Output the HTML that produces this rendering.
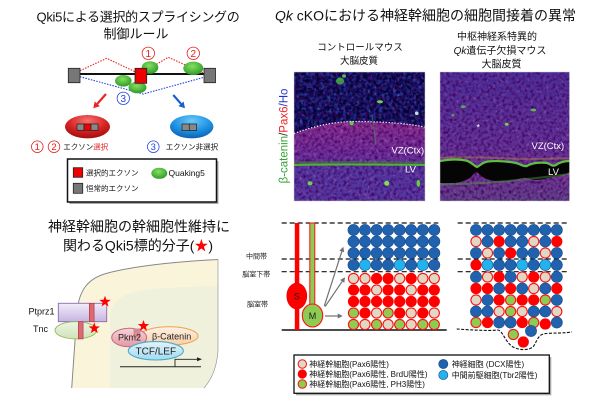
<!DOCTYPE html>
<html><head><meta charset="utf-8"><style>
html,body{margin:0;padding:0;background:#fff;width:600px;height:401px;overflow:hidden}
svg{display:block}
text{font-family:"Liberation Sans","Noto Sans CJK JP",sans-serif}
</style></head><body>
<svg xmlns="http://www.w3.org/2000/svg" xmlns:xlink="http://www.w3.org/1999/xlink" width="600" height="401" viewBox="0 0 600 401">
<defs>
<radialGradient id="gG" cx="0.45" cy="0.35" r="0.65"><stop offset="0" stop-color="#86e060"/><stop offset="1" stop-color="#2f9a2a"/></radialGradient>
<radialGradient id="gRe" cx="0.5" cy="0.25" r="0.8"><stop offset="0" stop-color="#f87070"/><stop offset="0.55" stop-color="#d42222"/><stop offset="1" stop-color="#9a0a0a"/></radialGradient>
<radialGradient id="gBl" cx="0.5" cy="0.25" r="0.8"><stop offset="0" stop-color="#6ccaf8"/><stop offset="0.55" stop-color="#1e90e2"/><stop offset="1" stop-color="#0a5aa8"/></radialGradient>
<linearGradient id="gPu" x1="0" y1="0" x2="0" y2="1"><stop offset="0" stop-color="#f2ecfa"/><stop offset="1" stop-color="#c6b4e0"/></linearGradient>
<linearGradient id="gTnc" x1="0" y1="0" x2="0" y2="1"><stop offset="0" stop-color="#eef5e4"/><stop offset="1" stop-color="#cfe2b8"/></linearGradient>
<linearGradient id="gPk" x1="0" y1="0" x2="0" y2="1"><stop offset="0" stop-color="#f6d4d8"/><stop offset="1" stop-color="#e498a4"/></linearGradient>
<linearGradient id="gBc" x1="0" y1="0" x2="0" y2="1"><stop offset="0" stop-color="#fdf2e4"/><stop offset="1" stop-color="#f8cfa8"/></linearGradient>
<linearGradient id="gTcf" x1="0" y1="0" x2="0" y2="1"><stop offset="0" stop-color="#e2f4fb"/><stop offset="1" stop-color="#a2daf0"/></linearGradient>
<linearGradient id="gMag" x1="0" y1="0" x2="0" y2="1"><stop offset="0" stop-color="#862c8c"/><stop offset="0.6" stop-color="#702c98"/><stop offset="1" stop-color="#5e329c"/></linearGradient>
<linearGradient id="gRt" x1="0" y1="0" x2="0" y2="1"><stop offset="0" stop-color="#4a2e98"/><stop offset="0.55" stop-color="#5e3096"/><stop offset="0.8" stop-color="#6c3290"/><stop offset="1" stop-color="#5c4088"/></linearGradient>
<filter id="nDark" x="0" y="0" width="1" height="1"><feTurbulence type="fractalNoise" baseFrequency="0.3" numOctaves="2" seed="4"/><feColorMatrix type="matrix" values="0 0 0 0 0  0 0 0 0 0  0 0 0 0 0.03  -3.2 0 0 0 2.25"/></filter>
<filter id="nLight" x="0" y="0" width="1" height="1"><feTurbulence type="fractalNoise" baseFrequency="0.32" numOctaves="2" seed="9"/><feColorMatrix type="matrix" values="0 0 0 0 0.05  0 0 0 0 0  0 0 0 0 0.1  -2.4 0 0 0 1.35"/></filter>
<filter id="nPink" x="0" y="0" width="1" height="1"><feTurbulence type="fractalNoise" baseFrequency="0.3" numOctaves="2" seed="21"/><feColorMatrix type="matrix" values="0 0 0 0 0.9  0 0 0 0 0.2  0 0 0 0 0.5  2.6 0 0 0 -1.4"/></filter>
<filter id="nBlue" x="0" y="0" width="1" height="1"><feTurbulence type="fractalNoise" baseFrequency="0.28" numOctaves="2" seed="13"/><feColorMatrix type="matrix" values="0 0 0 0 0.2  0 0 0 0 0.3  0 0 0 0 0.95  2.6 0 0 0 -1.35"/></filter>
<clipPath id="c1"><rect x="294" y="72" width="131" height="129"/></clipPath>
<clipPath id="c2"><rect x="440" y="72" width="129.5" height="129"/></clipPath>
<clipPath id="cTop"><path d="M294,72 H425 V127 C405,123 385,122 360,121.5 C340,121 320,124 294,133.5 Z"/></clipPath>
<circle id="B" r="5.6" fill="#2162ae" stroke="#184c8c" stroke-width="0.6"/>
<circle id="L" r="5.6" fill="#22b2ee" stroke="#184c8c" stroke-width="0.6"/>
<circle id="R" r="5.6" fill="#ff0000"/>
<circle id="E" r="5.1" fill="#ded8c4" stroke="#ff1010" stroke-width="1.1"/>
<circle id="G" r="5.1" fill="#8ecb52" stroke="#ff1010" stroke-width="1.1"/>
<path id="st" d="M0,-6 L1.41,-1.94 L5.71,-1.85 L2.28,0.74 L3.53,4.85 L0,2.4 L-3.53,4.85 L-2.28,0.74 L-5.71,-1.85 L-1.41,-1.94Z" fill="#ff0000"/>
</defs>

<!-- ============ TOP LEFT ============ -->
<text x="138" y="21.7" font-size="13" text-anchor="middle" fill="#111" letter-spacing="-0.3">Qki5による選択的スプライシングの</text>
<text x="136" y="38.3" font-size="13" text-anchor="middle" fill="#111">制御ルール</text>

<polyline points="80,70.7 106.7,58.3 135,71.7" fill="none" stroke="#ee2222" stroke-width="1.1" stroke-dasharray="1.5 1.3"/>
<polyline points="146.7,70 168.3,57.3 204,73.3" fill="none" stroke="#ee2222" stroke-width="1.1" stroke-dasharray="1.5 1.3"/>
<polyline points="80,76.7 143.3,94 204,77.3" fill="none" stroke="#2244dd" stroke-width="1.1" stroke-dasharray="1.5 1.3"/>
<line x1="80" y1="74" x2="204" y2="74" stroke="#111" stroke-width="2"/>
<ellipse cx="150" cy="67.5" rx="8.3" ry="6.3" fill="url(#gG)"/>
<ellipse cx="123.3" cy="80.8" rx="8.3" ry="5.8" fill="url(#gG)"/>
<ellipse cx="137.5" cy="87.5" rx="9" ry="5.8" fill="url(#gG)"/>
<ellipse cx="193.3" cy="68.3" rx="10" ry="6.7" fill="url(#gG)"/>
<rect x="68.3" y="68.3" width="11.7" height="14.4" fill="#777" stroke="#222" stroke-width="0.8"/>
<rect x="204" y="68.3" width="11.5" height="14.4" fill="#777" stroke="#222" stroke-width="0.8"/>
<rect x="135" y="68.3" width="11.7" height="15" fill="#ee0000" stroke="#222" stroke-width="0.8"/>

<circle cx="148.3" cy="53.3" r="6.2" fill="#fff" stroke="#e02020" stroke-width="0.8"/>
<text x="148.3" y="56.9" font-size="10" text-anchor="middle" fill="#e02020">1</text>
<circle cx="193.3" cy="53.3" r="6.2" fill="#fff" stroke="#e02020" stroke-width="0.8"/>
<text x="193.3" y="56.9" font-size="10" text-anchor="middle" fill="#e02020">2</text>
<circle cx="123.3" cy="98.3" r="6.2" fill="#fff" stroke="#2244dd" stroke-width="0.8"/>
<text x="123.3" y="101.9" font-size="10" text-anchor="middle" fill="#2244dd">3</text>

<line x1="106" y1="94" x2="97.3" y2="103.8" stroke="#ee2222" stroke-width="2.2"/>
<polygon points="93.3,108.3 99.9,106.1 94.7,101.5" fill="#ee2222"/>
<line x1="173.3" y1="95" x2="181" y2="103.8" stroke="#1a5fd0" stroke-width="2.2"/>
<polygon points="185,108.3 178.4,106.1 183.6,101.5" fill="#1a5fd0"/>

<ellipse cx="87.5" cy="126.7" rx="22.5" ry="11.7" fill="url(#gRe)"/>
<rect x="77" y="124" width="7" height="6.3" fill="#888" stroke="#222" stroke-width="0.7"/>
<rect x="84" y="124" width="7" height="6.3" fill="#ee0000" stroke="#222" stroke-width="0.7"/>
<rect x="91" y="124" width="7" height="6.3" fill="#888" stroke="#222" stroke-width="0.7"/>
<ellipse cx="191.7" cy="126.7" rx="21.7" ry="11.7" fill="url(#gBl)"/>
<rect x="182" y="124" width="7.3" height="6.5" fill="#888" stroke="#222" stroke-width="0.7"/>
<rect x="189.3" y="124" width="7.3" height="6.5" fill="#888" stroke="#222" stroke-width="0.7"/>

<circle cx="37.3" cy="146.7" r="5.8" fill="none" stroke="#e02020" stroke-width="0.8"/>
<text x="37.3" y="150.1" font-size="9.5" text-anchor="middle" fill="#e02020">1</text>
<circle cx="54" cy="146.7" r="5.8" fill="none" stroke="#e02020" stroke-width="0.8"/>
<text x="54" y="150.1" font-size="9.5" text-anchor="middle" fill="#e02020">2</text>
<text x="63.3" y="149.6" font-size="7.5" fill="#111">エクソン<tspan fill="#e02020">選択</tspan></text>
<circle cx="153.3" cy="146.7" r="5.8" fill="none" stroke="#2244dd" stroke-width="0.8"/>
<text x="153.3" y="150.1" font-size="9.5" text-anchor="middle" fill="#2244dd">3</text>
<text x="165.7" y="149.6" font-size="7.5" fill="#111">エクソン非選択</text>

<rect x="69.5" y="161" width="149" height="43" fill="#aaa"/>
<rect x="67.5" y="159" width="149" height="43" fill="#fff" stroke="#111" stroke-width="1.5"/>
<rect x="73.3" y="167.7" width="9.4" height="9.6" fill="#ee0000" stroke="#222" stroke-width="0.8"/>
<text x="86" y="175.6" font-size="7.5" fill="#111">選択的エクソン</text>
<rect x="73.3" y="183.3" width="9.4" height="10" fill="#777" stroke="#222" stroke-width="0.8"/>
<text x="86" y="191.2" font-size="7.5" fill="#111">恒常的エクソン</text>
<ellipse cx="159.3" cy="173.3" rx="8" ry="5.5" fill="url(#gG)"/>
<text x="168.5" y="176.2" font-size="8.5" fill="#111">Quaking5</text>

<!-- ============ BOTTOM LEFT ============ -->
<text x="139" y="231.3" font-size="14" text-anchor="middle" fill="#111">神経幹細胞の幹細胞性維持に</text>
<text x="138" y="250.3" font-size="14" text-anchor="middle" fill="#111">関わるQki5標的分子(<tspan fill="#ff0000">★</tspan>)</text>

<path d="M71.7,388 L77,312 C79,290 88,278 108,273 C135,266 170,262 218,259.5 L218,350 C217,368 211,380 204,388 Z" fill="#faf5da"/>
<path d="M110,388 L110,318 C110,300 125,292 150,289 C175,287 200,286.5 218,286 L218,350 C217,368 211,380 204,388 Z" fill="#eff1dd"/>
<path d="M71.7,388 L77,312 C79,290 88,278 108,273 C135,266 170,262 218,259.5" fill="none" stroke="#888" stroke-width="1"/>
<path d="M218,259.5 L218,350 C217,368 211,380 204,388" fill="none" stroke="#999" stroke-width="0.7"/>

<rect x="58.3" y="303.3" width="48.4" height="18.4" fill="url(#gPu)" stroke="#8a6cb0" stroke-width="0.9"/>
<rect x="89.3" y="303.3" width="4.8" height="18.4" fill="#dd6a72" stroke="#b03040" stroke-width="0.6"/>
<ellipse cx="75.8" cy="330.3" rx="20.8" ry="8.6" fill="url(#gTnc)" stroke="#8fbb5a" stroke-width="0.9"/>
<rect x="78.3" y="321.7" width="4.8" height="17.2" fill="#dd6a72" stroke="#b03040" stroke-width="0.6"/>
<text x="28.5" y="314.7" font-size="9" fill="#111">Ptprz1</text>
<text x="33" y="332.2" font-size="9" fill="#111">Tnc</text>

<ellipse cx="169" cy="336" rx="29" ry="9.2" fill="url(#gBc)" stroke="#f0a050" stroke-width="1"/>
<ellipse cx="129.2" cy="337.5" rx="17.5" ry="9.2" fill="url(#gPk)" stroke="#c86878" stroke-width="1"/>
<rect x="133.5" y="328.5" width="7" height="9" fill="#d88890"/>
<text x="118" y="340.5" font-size="9" fill="#222">Pkm2</text>
<text x="152" y="339.5" font-size="9" fill="#222">β-Catenin</text>
<ellipse cx="155.8" cy="350.8" rx="27.5" ry="9.2" fill="url(#gTcf)" stroke="#4aaccc" stroke-width="1.1"/>
<text x="155.8" y="354.5" font-size="10" text-anchor="middle" fill="#222">TCF/LEF</text>
<line x1="120" y1="366.7" x2="201" y2="366.7" stroke="#222" stroke-width="1"/>
<polyline points="175,366.7 175,359.3 198,359.3" fill="none" stroke="#222" stroke-width="0.9"/>
<polygon points="202,359.3 197,357.3 197,361.3" fill="#222"/>
<use xlink:href="#st" href="#st" x="105" y="301.7"/>
<use xlink:href="#st" href="#st" x="94.3" y="328.3"/>
<use xlink:href="#st" href="#st" x="143.5" y="326"/>

<!-- ============ TOP RIGHT ============ -->
<text x="275" y="20.3" font-size="14" fill="#111"><tspan font-style="italic">Qk</tspan> cKOにおける神経幹細胞の細胞間接着の異常</text>
<text x="360" y="50.3" font-size="9.5" text-anchor="middle" fill="#111">コントロールマウス</text>
<text x="359" y="63.8" font-size="9.5" text-anchor="middle" fill="#111">大脳皮質</text>
<text x="497" y="39.8" font-size="10" text-anchor="middle" fill="#111">中枢神経系特異的</text>
<text x="500" y="53.8" font-size="10" text-anchor="middle" fill="#111"><tspan font-style="italic">Qk</tspan>遺伝子欠損マウス</text>
<text x="501.5" y="67.3" font-size="10" text-anchor="middle" fill="#111">大脳皮質</text>

<text transform="translate(287.3,136) rotate(-90)" font-size="11.5" text-anchor="middle"><tspan fill="#35a035">β-catenin</tspan><tspan fill="#333">/</tspan><tspan fill="#ee2020">Pax6</tspan><tspan fill="#2233cc">/Ho</tspan></text>

<g clip-path="url(#c1)">
<rect x="294" y="72" width="131" height="129" fill="#5236a0"/>
<path d="M294,133.5 C320,124 340,121 360,121.5 C385,122 405,123 425,127 V166 H294 Z" fill="url(#gMag)"/>
<rect x="294" y="72" width="131" height="129" fill="#000" filter="url(#nPink)" opacity="0.45"/>
<g clip-path="url(#cTop)">
<rect x="294" y="72" width="131" height="62" fill="#1c2a92"/>
<rect x="294" y="72" width="131" height="62" fill="#000" filter="url(#nDark)"/>
<rect x="294" y="72" width="131" height="62" fill="#000" filter="url(#nBlue)" opacity="0.5"/>
</g>
<rect x="294" y="72" width="131" height="129" fill="#000" filter="url(#nLight)"/>
<path d="M294,163 C330,162 380,162.5 425,163" fill="none" stroke="#3c8a30" stroke-width="3" opacity="0.5"/>
<path d="M294,165 C330,164 380,164.5 425,165" fill="none" stroke="#52b038" stroke-width="2"/>
<ellipse cx="340" cy="81" rx="4" ry="3.5" fill="#50c040" opacity="0.75"/>
<ellipse cx="344" cy="76" rx="2" ry="1.8" fill="#80e060" opacity="0.75"/>
<ellipse cx="380" cy="101.7" rx="3" ry="1.5" fill="#70d050"/>
<ellipse cx="351.7" cy="123.3" rx="2" ry="2" fill="#60d040"/>
<ellipse cx="416.7" cy="113.3" rx="1.8" ry="1.8" fill="#c0e0d0"/>
<line x1="372" y1="115" x2="376" y2="145" stroke="#40a040" stroke-width="1.2" opacity="0.5"/>
<ellipse cx="310" cy="183.3" rx="2.5" ry="2" fill="#70d050"/>
<ellipse cx="386.7" cy="183.3" rx="2.5" ry="2.5" fill="#80e050"/>
<ellipse cx="418.3" cy="183.3" rx="1.8" ry="3.5" fill="#60d040"/>
<path d="M294,133.5 C320,124 340,121 360,121.5 C385,122 405,123 425,127" fill="none" stroke="#fff" stroke-width="1.2" stroke-dasharray="1.2 1.8"/>
<text x="391.5" y="153.3" font-size="9.5" fill="#fff">VZ(Ctx)</text>
<text x="405" y="172.3" font-size="9.5" fill="#fff">LV</text>
</g>
<rect x="294" y="72" width="131" height="129" fill="none" stroke="#ccc" stroke-width="0.5"/>

<g clip-path="url(#c2)">
<rect x="440" y="72" width="129.5" height="129" fill="url(#gRt)"/>
<rect x="440" y="72" width="129.5" height="129" fill="#000" filter="url(#nPink)" opacity="0.35"/>
<rect x="440" y="72" width="129.5" height="129" fill="#000" filter="url(#nLight)"/>
<path d="M440,161 C448,159.5 458,159 466,160.5 C471,161.5 474,166 477,167 C480,166 482,162 488,161.5 C498,160.5 508,161.5 516,163 C521,164 523,167 527,166 C531,163 540,162 547,163 C551,164 552,167 556,165 C560,162 565,161 570,161 L570,172 C565,174 560,176 553,177 C547,178 542,180 535,180 C530,180 527,177 522,178 C515,180 505,182 495,181 C488,180 483,178 479,174 C477,171 475,172 472,176 C468,180 460,183 452,183 L440,183 Z" fill="#050505"/>
<path d="M440,161 C448,159.5 458,159 466,160.5 C471,161.5 474,166 477,167 C480,166 482,162 488,161.5 C498,160.5 508,161.5 516,163 C521,164 523,167 527,166 C531,163 540,162 547,163 C551,164 552,167 556,165 C560,162 565,161 570,161" fill="none" stroke="#5cc040" stroke-width="2.2"/>
<path d="M440,158 C460,156.5 490,157.5 520,159 C540,159.5 555,158.5 570,158" fill="none" stroke="#c09040" stroke-width="2" opacity="0.4"/>
<path d="M440,184 C460,184.5 500,183 570,174" fill="none" stroke="#50a040" stroke-width="2" opacity="0.45"/>
<ellipse cx="463.3" cy="106.7" rx="2.5" ry="1.5" fill="#60c050" opacity="0.8"/>
<ellipse cx="533.3" cy="110" rx="3" ry="1.5" fill="#70d050" opacity="0.8"/>
<ellipse cx="506.7" cy="124.3" rx="2" ry="1.5" fill="#70d050"/>
<ellipse cx="453" cy="115" rx="1.5" ry="1.5" fill="#60c050" opacity="0.7"/>
<text x="478.3" y="130.3" font-size="9" text-anchor="middle" fill="#fff">*</text>
<text x="531.5" y="149" font-size="9.5" fill="#fff">VZ(Ctx)</text>
<text x="548" y="175" font-size="9.5" fill="#fff">LV</text>
</g>
<rect x="440" y="72" width="129.5" height="129" fill="none" stroke="#ccc" stroke-width="0.5"/>

<!-- ============ BOTTOM RIGHT ============ -->
<text x="246" y="258.5" font-size="7" fill="#222">中間帯</text>
<text x="242.3" y="276.7" font-size="7" fill="#222">脳室下帯</text>
<text x="247" y="306.7" font-size="7" fill="#222">脳室帯</text>

<g stroke="#111" stroke-width="1.2" stroke-dasharray="5 3">
<line x1="281.7" y1="223" x2="438.3" y2="223"/>
<line x1="281.7" y1="259" x2="438.3" y2="259"/>
<line x1="281.7" y1="271.7" x2="438.3" y2="271.7"/>
<line x1="457.7" y1="223" x2="567.7" y2="223"/>
<line x1="457.7" y1="259" x2="567.7" y2="259"/>
<line x1="457.7" y1="271.7" x2="567.7" y2="271.7"/>
</g>
<line x1="281.7" y1="330" x2="446.7" y2="330" stroke="#111" stroke-width="1.5"/>
<path d="M456.7,329 C470,330 490,331 498,330 C503,331 505,342 513,347 C520,350.5 528,350.5 533,347 C536,343 537,338 541,335 C546,332 558,334 572,332" fill="none" stroke="#111" stroke-width="1.1" stroke-dasharray="3 1.5"/>

<!-- S / M cells -->
<rect x="294.8" y="223" width="4.5" height="107" fill="#ff0000"/>
<ellipse cx="296.8" cy="296" rx="10" ry="13" fill="#ff0000" stroke="#dd0000" stroke-width="0.6"/>
<text x="296.8" y="299.5" font-size="9" text-anchor="middle" fill="#222">S</text>
<rect x="309.8" y="223" width="5" height="82" fill="#8ecb52" stroke="#ff1010" stroke-width="1"/>
<ellipse cx="312.5" cy="315.5" rx="10.2" ry="11.5" fill="#8ecb52" stroke="#ff1010" stroke-width="1.1"/>
<text x="312.5" y="319" font-size="9" text-anchor="middle" fill="#222">M</text>

<g stroke="#707070" stroke-width="1.2">
<line x1="324.3" y1="306" x2="341.8" y2="251.5"/>
<line x1="325" y1="306.7" x2="342.2" y2="281.4"/>
<line x1="325" y1="316" x2="337.7" y2="316"/>
</g>
<g fill="#707070">
<polygon points="343.3,246.7 344.2,252.2 339.4,250.7"/>
<polygon points="345,277.3 344.3,282.8 340.1,280"/>
<polygon points="342.7,316 337.7,313.5 337.7,318.5"/>
</g>

<!-- left grid -->
<g>
<use href="#B" x="353.5" y="230"/><use href="#B" x="365" y="230"/><use href="#B" x="376.6" y="230"/><use href="#B" x="388.1" y="230"/><use href="#B" x="399.7" y="230"/><use href="#B" x="411.2" y="230"/><use href="#B" x="422.8" y="230"/><use href="#B" x="434.3" y="230"/>
<use href="#B" x="353.5" y="241.5"/><use href="#B" x="365" y="241.5"/><use href="#B" x="376.6" y="241.5"/><use href="#B" x="388.1" y="241.5"/><use href="#B" x="399.7" y="241.5"/><use href="#B" x="411.2" y="241.5"/><use href="#B" x="422.8" y="241.5"/><use href="#B" x="434.3" y="241.5"/>
<use href="#B" x="353.5" y="253"/><use href="#B" x="365" y="253"/><use href="#B" x="376.6" y="253"/><use href="#B" x="388.1" y="253"/><use href="#B" x="399.7" y="253"/><use href="#B" x="411.2" y="253"/><use href="#B" x="422.8" y="253"/><use href="#B" x="434.3" y="253"/>
<use href="#B" x="353.5" y="265"/><use href="#L" x="365" y="265"/><use href="#B" x="376.6" y="265"/><use href="#B" x="388.1" y="265"/><use href="#L" x="399.7" y="265"/><use href="#B" x="411.2" y="265"/><use href="#L" x="422.8" y="265"/><use href="#B" x="434.3" y="265"/>
<use href="#E" x="353.5" y="278.5"/><use href="#E" x="365" y="278.5"/><use href="#R" x="376.6" y="278.5"/><use href="#R" x="388.1" y="278.5"/><use href="#E" x="399.7" y="278.5"/><use href="#R" x="411.2" y="278.5"/><use href="#E" x="422.8" y="278.5"/><use href="#E" x="434.3" y="278.5"/>
<use href="#R" x="353.5" y="290"/><use href="#R" x="365" y="290"/><use href="#E" x="376.6" y="290"/><use href="#R" x="388.1" y="290"/><use href="#R" x="399.7" y="290"/><use href="#E" x="411.2" y="290"/><use href="#R" x="422.8" y="290"/><use href="#R" x="434.3" y="290"/>
<use href="#R" x="353.5" y="301.5"/><use href="#R" x="365" y="301.5"/><use href="#R" x="376.6" y="301.5"/><use href="#R" x="388.1" y="301.5"/><use href="#R" x="399.7" y="301.5"/><use href="#R" x="411.2" y="301.5"/><use href="#R" x="422.8" y="301.5"/><use href="#R" x="434.3" y="301.5"/>
<use href="#G" x="353.5" y="313"/><use href="#R" x="365" y="313"/><use href="#E" x="376.6" y="313"/><use href="#G" x="388.1" y="313"/><use href="#R" x="399.7" y="313"/><use href="#E" x="411.2" y="313"/><use href="#R" x="422.8" y="313"/><use href="#E" x="434.3" y="313"/>
<use href="#G" x="353.5" y="324.5"/><use href="#E" x="365" y="324.5"/><use href="#G" x="376.6" y="324.5"/><use href="#E" x="388.1" y="324.5"/><use href="#G" x="399.7" y="324.5"/><use href="#E" x="411.2" y="324.5"/><use href="#G" x="422.8" y="324.5"/><use href="#G" x="434.3" y="324.5"/>
</g>

<!-- right grid -->
<g>
<use href="#B" x="476" y="230"/><use href="#B" x="487.5" y="230"/><use href="#B" x="499.1" y="230"/><use href="#B" x="510.6" y="230"/><use href="#B" x="522.2" y="230"/><use href="#B" x="533.7" y="230"/><use href="#B" x="545.3" y="230"/><use href="#B" x="556.8" y="230"/>
<use href="#E" x="476" y="241.5"/><use href="#B" x="487.5" y="241.5"/><use href="#R" x="499.1" y="241.5"/><use href="#B" x="510.6" y="241.5"/><use href="#B" x="522.2" y="241.5"/><use href="#E" x="533.7" y="241.5"/><use href="#B" x="545.3" y="241.5"/><use href="#R" x="556.8" y="241.5"/>
<use href="#B" x="476" y="253"/><use href="#E" x="487.5" y="253"/><use href="#B" x="499.1" y="253"/><use href="#R" x="510.6" y="253"/><use href="#B" x="522.2" y="253"/><use href="#B" x="533.7" y="253"/><use href="#E" x="545.3" y="253"/><use href="#B" x="556.8" y="253"/>
<use href="#R" x="476" y="265"/><use href="#L" x="487.5" y="265"/><use href="#B" x="499.1" y="265"/><use href="#B" x="510.6" y="265"/><use href="#L" x="522.2" y="265"/><use href="#B" x="533.7" y="265"/><use href="#L" x="545.3" y="265"/><use href="#B" x="556.8" y="265"/>
<use href="#B" x="476" y="277"/><use href="#E" x="487.5" y="277"/><use href="#R" x="499.1" y="277"/><use href="#B" x="510.6" y="277"/><use href="#E" x="522.2" y="277"/><use href="#R" x="533.7" y="277"/><use href="#E" x="545.3" y="277"/><use href="#B" x="556.8" y="277"/>
<use href="#R" x="476" y="288.5"/><use href="#R" x="487.5" y="288.5"/><use href="#B" x="499.1" y="288.5"/><use href="#R" x="510.6" y="288.5"/><use href="#B" x="522.2" y="288.5"/><use href="#E" x="533.7" y="288.5"/><use href="#B" x="545.3" y="288.5"/><use href="#R" x="556.8" y="288.5"/>
<use href="#E" x="476" y="300"/><use href="#B" x="487.5" y="300"/><use href="#R" x="499.1" y="300"/><use href="#G" x="510.6" y="300"/><use href="#R" x="522.2" y="300"/><use href="#R" x="533.7" y="300"/><use href="#G" x="545.3" y="300"/><use href="#B" x="556.8" y="300"/>
<use href="#B" x="476" y="311.5"/><use href="#B" x="487.5" y="311.5"/><use href="#E" x="499.1" y="311.5"/><use href="#G" x="510.6" y="311.5"/><use href="#E" x="522.2" y="311.5"/><use href="#B" x="533.7" y="311.5"/><use href="#B" x="545.3" y="311.5"/><use href="#E" x="556.8" y="311.5"/>
<use href="#G" x="476" y="322.5"/><use href="#R" x="487.5" y="322.5"/><use href="#B" x="499.1" y="322.5"/><use href="#B" x="510.6" y="322.5"/><use href="#R" x="522.2" y="322.5"/><use href="#G" x="533.7" y="322.5"/><use href="#R" x="545.3" y="324"/><use href="#B" x="556.8" y="322.5"/>
<use href="#B" x="531" y="331"/><use href="#G" x="513.3" y="334.5"/><use href="#R" x="523.3" y="342"/>
</g>

<!-- legend bottom right -->
<rect x="296" y="357" width="255.3" height="38.3" fill="#aaa"/>
<rect x="294" y="355" width="255.3" height="38.3" fill="#fff" stroke="#111" stroke-width="1.3"/>
<circle cx="302.3" cy="364" r="4.2" fill="#ded8c4" stroke="#ff1010" stroke-width="1"/>
<text x="309.3" y="367" font-size="8" fill="#111">神経幹細胞(Pax6陽性)</text>
<circle cx="302.3" cy="374" r="4.6" fill="#ff0000"/>
<text x="309.3" y="377" font-size="8" fill="#111">神経幹細胞(Pax6陽性, BrdU陽性)</text>
<circle cx="302.3" cy="384" r="4.2" fill="#8ecb52" stroke="#ff1010" stroke-width="1"/>
<text x="309.3" y="387" font-size="8" fill="#111">神経幹細胞(Pax6陽性, PH3陽性)</text>
<circle cx="443.3" cy="364" r="4.6" fill="#2162ae" stroke="#184c8c" stroke-width="0.6"/>
<text x="451.7" y="367" font-size="8" fill="#111">神経細胞 (DCX陽性)</text>
<circle cx="443.3" cy="375" r="4.6" fill="#22b2ee" stroke="#184c8c" stroke-width="0.6"/>
<text x="451.7" y="378" font-size="8" fill="#111">中間前駆細胞(Tbr2陽性)</text>
</svg>
</body></html>
